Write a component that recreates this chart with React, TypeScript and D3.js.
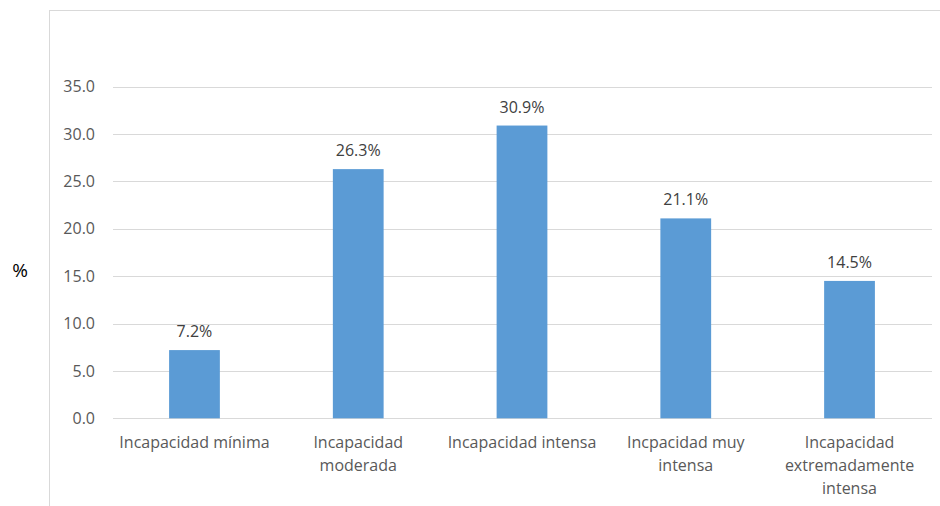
import React, { useEffect, useRef } from 'react';
import * as d3 from 'd3';

const categories = [
  'Incapacidad mínima',
  'Incapacidad\nmoderada',
  'Incapacidad intensa',
  'Incpacidad muy\nintensa',
  'Incapacidad\nextremadamente\nintensa',
];
const values = [7.2, 26.3, 30.9, 21.1, 14.5];
const yTicks = [0, 5, 10, 15, 20, 25, 30, 35];

export default function App() {
  const svgRef = useRef<SVGSVGElement>(null);

  useEffect(() => {
    const width = 940, height = 506;
    const svg = d3.select(svgRef.current);
    svg.selectAll('*').remove();
    svg.attr('width', width).attr('height', height);

    const font = '"Open Sans", Lato, sans-serif';

    // outer frame (only top and left edges visible)
    svg.append('rect')
      .attr('x', 49.5).attr('y', 10.5)
      .attr('width', 1000).attr('height', 1000)
      .attr('fill', '#fff').attr('stroke', '#d9d9d9');

    const x = d3.scaleBand()
      .domain(categories)
      .range([112.6, 931.4])
      .paddingInner(0.69)
      .paddingOuter(0.345);

    const y = d3.scaleLinear().domain([0, 35]).range([418.3, 86.7]);

    // gridlines
    svg.append('g')
      .selectAll('line')
      .data(yTicks)
      .enter()
      .append('line')
      .attr('x1', 113).attr('x2', 932)
      .attr('y1', d => Math.round(y(d)) + 0.5)
      .attr('y2', d => Math.round(y(d)) + 0.5)
      .attr('stroke', '#d9d9d9').attr('stroke-width', 1);

    // y tick labels
    svg.append('g')
      .selectAll('text')
      .data(yTicks)
      .enter()
      .append('text')
      .attr('x', 95)
      .attr('y', d => y(d))
      .attr('dy', '0.35em')
      .attr('text-anchor', 'end')
      .attr('font-family', font)
      .attr('font-size', 16)
      .attr('fill', '#595959')
      .text(d => d.toFixed(1));

    // bars
    svg.append('g')
      .selectAll('rect')
      .data(values)
      .enter()
      .append('rect')
      .attr('x', (d, i) => x(categories[i]) as number)
      .attr('width', x.bandwidth())
      .attr('y', d => y(d))
      .attr('height', d => y(0) - y(d))
      .attr('fill', '#5b9bd5');

    // value labels
    svg.append('g')
      .selectAll('text')
      .data(values)
      .enter()
      .append('text')
      .attr('x', (d, i) => (x(categories[i]) as number) + x.bandwidth() / 2)
      .attr('y', d => y(d) - 13)
      .attr('text-anchor', 'middle')
      .attr('font-family', font)
      .attr('font-size', 16)
      .attr('fill', '#404040')
      .text(d => d.toFixed(1) + '%');

    // category labels
    const cat = svg.append('g')
      .selectAll('text')
      .data(categories)
      .enter()
      .append('text')
      .attr('text-anchor', 'middle')
      .attr('font-family', font)
      .attr('font-size', 16)
      .attr('fill', '#595959');
    cat.each(function (d) {
      const t = d3.select(this);
      const cx = (x(d) as number) + x.bandwidth() / 2;
      d.split('\n').forEach((line, i) => {
        t.append('tspan').attr('x', cx).attr('y', 448 + i * 23).text(line);
      });
    });

    // y axis title
    svg.append('text')
      .attr('x', 20).attr('y', 277)
      .attr('text-anchor', 'middle')
      .attr('font-family', font)
      .attr('font-size', 19)
      .attr('fill', '#000')
      .text('%');
  }, []);

  return (
    <div style={{ position: 'absolute', left: 0, top: 0 }}>
      <svg ref={svgRef} style={{ display: 'block' }}></svg>
    </div>
  );
}
